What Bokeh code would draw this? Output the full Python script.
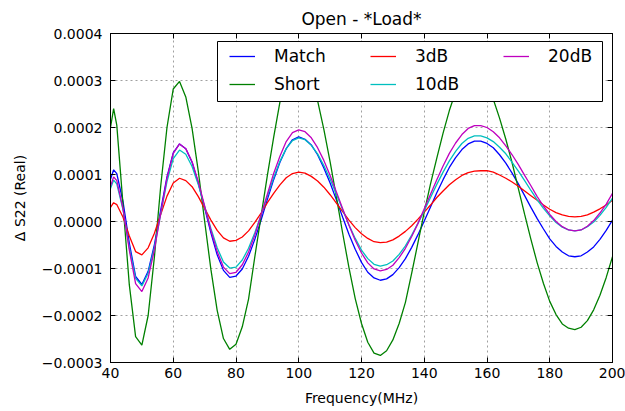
from bokeh.plotting import figure
from bokeh.models import (LinearAxis, FixedTicker, Legend, LegendItem, BoxAnnotation, Range1d)
from bokeh.embed import file_html
from bokeh.resources import INLINE

# ---------------- data (values of ΔS22 in units of 1e-4) ----------------
freq_mhz = [40, 41, 42, 44, 46, 48,
            50, 52, 54, 56, 58, 60, 62, 64, 66, 68,
            70, 72, 74, 76, 78, 80, 82, 84, 86, 88,
            90, 92, 94, 96, 98, 100, 102, 104, 106, 108,
            110, 112, 114, 116, 118, 120, 122, 124, 126, 128,
            130, 132, 134, 136, 138, 140, 142, 144, 146, 148,
            150, 152, 154, 156, 158, 160, 162, 164, 166, 168,
            170, 172, 174, 176, 178, 180, 182, 184, 186, 188,
            190, 192, 194, 196, 198, 200]

match_e4 = [0.90, 1.10, 1.02, 0.42, -0.46, -1.17,
            -1.34, -1.06, -0.49, 0.24, 0.95,
            1.46, 1.65, 1.55, 1.26, 0.81,
            0.29, -0.24, -0.71, -1.04, -1.19,
            -1.16, -1.01, -0.74, -0.38, 0.03,
            0.47, 0.89, 1.26, 1.55, 1.74,
            1.80, 1.75, 1.63, 1.42, 1.14,
            0.82, 0.46, 0.09, -0.27, -0.59,
            -0.87, -1.08, -1.20, -1.25, -1.22,
            -1.13, -0.98, -0.79, -0.55, -0.28,
            0.01, 0.31, 0.61, 0.89, 1.15,
            1.36, 1.53, 1.65, 1.71, 1.71,
            1.66, 1.57, 1.42, 1.24, 1.03,
            0.80, 0.55, 0.30, 0.06, -0.16,
            -0.37, -0.53, -0.65, -0.73, -0.75,
            -0.73, -0.65, -0.54, -0.38, -0.19,
            0.03]

short_e4 = [2.00, 2.40, 2.05, 0.35, -1.35, -2.45,
            -2.63, -2.00, -0.75, 0.75, 2.00,
            2.82, 2.98, 2.65, 1.98, 1.06,
            0.01, -1.02, -1.89, -2.49, -2.72,
            -2.61, -2.24, -1.65, -0.75, 0.12,
            0.98, 1.79, 2.54, 3.10, 3.43,
            3.50, 3.35, 3.04, 2.57, 1.96,
            1.27, 0.52, -0.25, -0.98, -1.64,
            -2.17, -2.57, -2.80, -2.85, -2.75,
            -2.52, -2.17, -1.72, -1.10, -0.45,
            0.20, 0.80, 1.35, 1.88, 2.36,
            2.76, 3.05, 3.21, 3.25, 3.17,
            2.95, 2.60, 2.20, 1.75, 1.25,
            0.70, 0.15, -0.38, -0.88, -1.32,
            -1.70, -1.98, -2.18, -2.27, -2.30,
            -2.25, -2.11, -1.88, -1.57, -1.19,
            -0.75]

db3_e4 = [0.30, 0.40, 0.36, 0.09, -0.31, -0.64,
          -0.71, -0.56, -0.25, 0.15, 0.54,
          0.82, 0.92, 0.87, 0.74, 0.53,
          0.28, 0.03, -0.19, -0.35, -0.42,
          -0.40, -0.33, -0.20, -0.02, 0.18,
          0.40, 0.60, 0.78, 0.93, 1.02,
          1.05, 1.03, 0.96, 0.86, 0.73,
          0.57, 0.39, 0.21, 0.03, -0.13,
          -0.26, -0.36, -0.43, -0.45, -0.44,
          -0.39, -0.31, -0.21, -0.09, 0.05,
          0.20, 0.35, 0.51, 0.65, 0.78,
          0.89, 0.98, 1.04, 1.07, 1.08,
          1.08, 1.05, 0.99, 0.92, 0.84,
          0.75, 0.65, 0.55, 0.45, 0.35,
          0.26, 0.19, 0.14, 0.11, 0.10,
          0.11, 0.14, 0.20, 0.27, 0.35,
          0.45]

db10_e4 = [0.70, 0.88, 0.80, 0.25, -0.56, -1.21,
           -1.37, -1.10, -0.55, 0.16, 0.85,
           1.34, 1.52, 1.43, 1.17, 0.78,
           0.32, -0.15, -0.56, -0.86, -0.99,
           -0.97, -0.82, -0.57, -0.24, 0.14,
           0.54, 0.93, 1.28, 1.55, 1.72,
           1.78, 1.74, 1.62, 1.44, 1.19,
           0.90, 0.58, 0.25, -0.07, -0.36,
           -0.61, -0.79, -0.91, -0.95, -0.92,
           -0.84, -0.70, -0.52, -0.29, -0.04,
           0.23, 0.51, 0.79, 1.05, 1.29,
           1.49, 1.66, 1.77, 1.82, 1.82,
           1.78, 1.70, 1.58, 1.44, 1.26,
           1.07, 0.87, 0.66, 0.46, 0.28,
           0.12, -0.02, -0.12, -0.18, -0.20,
           -0.18, -0.11, -0.01, 0.13, 0.30,
           0.50]

db20_e4 = [0.75, 0.95, 0.87, 0.27, -0.61, -1.32,
           -1.49, -1.20, -0.60, 0.17, 0.92,
           1.45, 1.65, 1.55, 1.27, 0.84,
           0.33, -0.19, -0.64, -0.97, -1.11,
           -1.08, -0.92, -0.65, -0.29, 0.14,
           0.58, 1.02, 1.39, 1.70, 1.89,
           1.95, 1.91, 1.78, 1.57, 1.30,
           0.98, 0.63, 0.27, -0.08, -0.40,
           -0.67, -0.88, -1.01, -1.05, -1.02,
           -0.93, -0.77, -0.57, -0.32, -0.04,
           0.27, 0.58, 0.89, 1.18, 1.45,
           1.67, 1.85, 1.98, 2.04, 2.04,
           2.00, 1.91, 1.78, 1.61, 1.42,
           1.21, 0.98, 0.76, 0.53, 0.33,
           0.15, 0.00, -0.11, -0.18, -0.20,
           -0.18, -0.10, 0.02, 0.18, 0.37,
           0.60]

series_names = ["Match", "Short", "3dB", "10dB", "20dB"]
x_ticks = [40, 60, 80, 100, 120, 140, 160, 180, 200]
y_ticks = [-0.0003, -0.0002, -0.0001, 0.0, 0.0001, 0.0002, 0.0003, 0.0004]
y_tick_labels = ["\u22120.0003", "\u22120.0002", "\u22120.0001", "0.0000",
                 "0.0001", "0.0002", "0.0003", "0.0004"]

UNIT = 1e-4
FONT = "DejaVu Sans"

# ---------------- figure ----------------
p = figure(width=625, height=411, output_backend="svg", toolbar_location=None,
           x_range=Range1d(40, 200), y_range=Range1d(-0.0003, 0.0004),
           min_border_left=110, min_border_right=13, min_border_top=33, min_border_bottom=49,
           title="Open - *Load*")
p.title.align = "center"
p.title.text_font = FONT
p.title.text_font_size = "17px"
p.title.text_font_style = "normal"
p.title.text_color = "black"
p.title.standoff = 9

p.background_fill_color = "white"
p.border_fill_color = "white"
p.outline_line_color = "black"
p.outline_line_width = 1
p.outline_line_alpha = 1

colors = ["#0000ff", "#008000", "#ff0000", "#00bfbf", "#bf00bf"]
all_series = [match_e4, short_e4, db3_e4, db10_e4, db20_e4]
renderers = []
for vals, col in zip(all_series, colors):
    ys = [v * UNIT for v in vals]
    r = p.line(freq_mhz, ys, line_color=col, line_width=1.3)
    renderers.append(r)

# axes
xa = p.xaxis[0]
xa.ticker = FixedTicker(ticks=x_ticks)
ya = p.yaxis[0]
ya.ticker = FixedTicker(ticks=y_ticks)
ya.major_label_overrides = dict(zip(y_ticks, y_tick_labels))
for ax in (xa, ya):
    ax.major_tick_in = 5
    ax.major_tick_out = 0
    ax.minor_tick_in = 0
    ax.minor_tick_out = 0
    ax.axis_line_color = "black"
    ax.major_tick_line_color = "black"
    ax.major_label_text_font = FONT
    ax.major_label_text_font_size = "14px"
    ax.major_label_text_color = "black"
    ax.axis_label_text_font = FONT
    ax.axis_label_text_font_size = "14px"
    ax.axis_label_text_font_style = "normal"
    ax.axis_label_text_color = "black"
xa.axis_label = "Frequency(MHz)"
ya.axis_label = "\u0394 S22 (Real)"
xa.major_label_standoff = 5
xa.axis_label_standoff = 9
ya.major_label_standoff = 8
ya.axis_label_standoff = 11

top_ax = LinearAxis(ticker=FixedTicker(ticks=x_ticks))
right_ax = LinearAxis(ticker=FixedTicker(ticks=y_ticks))
for ax in (top_ax, right_ax):
    ax.major_tick_in = 5
    ax.major_tick_out = 0
    ax.minor_tick_in = 0
    ax.minor_tick_out = 0
    ax.major_label_text_font_size = "0px"
    ax.major_label_text_color = None
    ax.major_label_standoff = 0
    ax.axis_line_color = "black"
    ax.major_tick_line_color = "black"
p.add_layout(top_ax, "above")
p.add_layout(right_ax, "right")

# grid
for g in (p.xgrid[0], p.ygrid[0]):
    g.grid_line_color = "#a0a0a0"
    g.grid_line_dash = "2 3"
    g.grid_line_width = 1
p.xgrid[0].ticker = FixedTicker(ticks=x_ticks)
p.ygrid[0].ticker = FixedTicker(ticks=y_ticks)

# legend box
box = BoxAnnotation(left=107, right=492, bottom=261, top=321,
                    left_units="screen", right_units="screen",
                    bottom_units="screen", top_units="screen",
                    fill_color="white", fill_alpha=1.0,
                    line_color="black", line_alpha=1.0, line_width=1)
p.add_layout(box)

items = [LegendItem(label=n, renderers=[r]) for n, r in zip(series_names, renderers)]
columns = [[items[0], items[1]], [items[2], items[3]], [items[4]]]
col_x = [119, 260, 393]
for its, cx in zip(columns, col_x):
    leg = Legend(items=its, location=(cx, 268 if len(its) == 2 else 296),
                 orientation="vertical", spacing=8, padding=0, margin=0,
                 border_line_alpha=0, background_fill_alpha=0,
                 glyph_width=26, glyph_height=20, label_height=20,
                 label_standoff=19, label_text_font=FONT, label_text_font_size="17px",
                 label_text_color="black")
    p.add_layout(leg, "center")

open("out.html", "w").write(file_html(p, INLINE))
